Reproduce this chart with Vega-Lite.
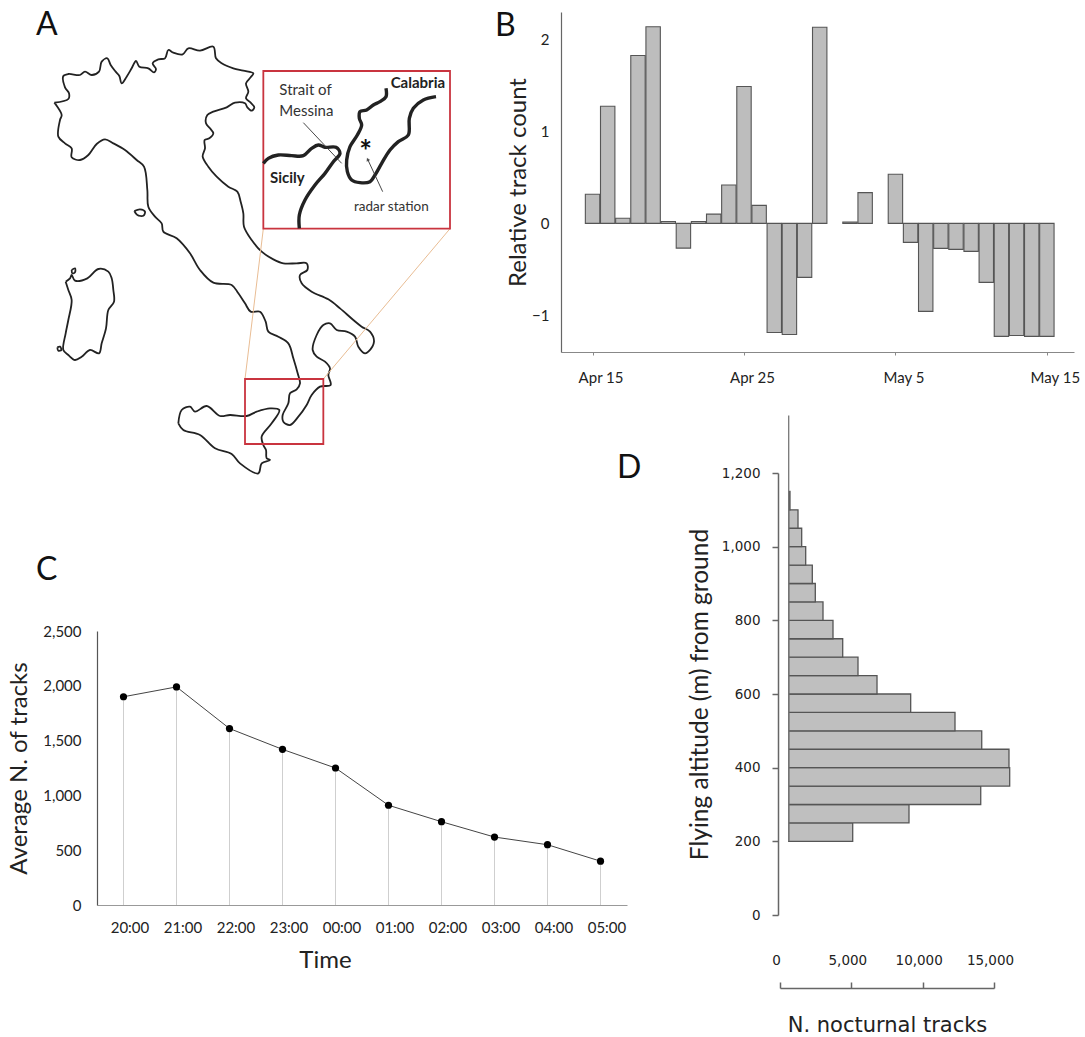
{"$schema":"https://vega.github.io/schema/vega-lite/v6.json","background":"white","padding":{"left":7,"top":9,"right":0,"bottom":0},"bounds":"flush","spacing":464,"config":{"view":{"stroke":null},"font":"Lato","axis":{"grid":false,"labelFlush":false,"labelFont":"Lato","titleFont":"Lato","titleFontWeight":"normal","labelColor":"#222","titleColor":"#222"},"title":{"font":"Lato","fontSize":32,"fontWeight":"normal","anchor":"start","frame":"group","offset":0,"baseline":"alphabetic","color":"#111"}},
"datasets":{
"coast":[
{"p":"main","x":163,"y":308},{"p":"main","x":205,"y":297},{"p":"main","x":207,"y":280},{"p":"main","x":195,"y":262},{"p":"main","x":190,"y":228},{"p":"main","x":205,"y":222},{"p":"main","x":240,"y":225},{"p":"main","x":255,"y":215},{"p":"main","x":275,"y":225},{"p":"main","x":297,"y":215},{"p":"main","x":305,"y":185},{"p":"main","x":322,"y":175},{"p":"main","x":332,"y":195},{"p":"main","x":347,"y":215},{"p":"main","x":358,"y":228},{"p":"main","x":365,"y":250},{"p":"main","x":380,"y":230},{"p":"main","x":395,"y":205},{"p":"main","x":408,"y":183},{"p":"main","x":418,"y":200},{"p":"main","x":445,"y":205},{"p":"main","x":462,"y":217},{"p":"main","x":468,"y":207},{"p":"main","x":458,"y":190},{"p":"main","x":475,"y":178},{"p":"main","x":495,"y":175},{"p":"main","x":505,"y":150},{"p":"main","x":520,"y":158},{"p":"main","x":548,"y":163},{"p":"main","x":565,"y":145},{"p":"main","x":600,"y":152},{"p":"main","x":640,"y":140},{"p":"main","x":648,"y":175},{"p":"main","x":665,"y":190},{"p":"main","x":700,"y":205},{"p":"main","x":730,"y":212},{"p":"main","x":760,"y":220},{"p":"main","x":752,"y":232},{"p":"main","x":738,"y":250},{"p":"main","x":745,"y":275},{"p":"main","x":738,"y":295},{"p":"main","x":752,"y":308},{"p":"main","x":763,"y":322},{"p":"main","x":755,"y":332},{"p":"main","x":742,"y":322},{"p":"main","x":735,"y":310},{"p":"main","x":705,"y":308},{"p":"main","x":680,"y":322},{"p":"main","x":640,"y":335},{"p":"main","x":622,"y":345},{"p":"main","x":618,"y":370},{"p":"main","x":630,"y":385},{"p":"main","x":640,"y":400},{"p":"main","x":628,"y":415},{"p":"main","x":614,"y":420},{"p":"main","x":615,"y":445},{"p":"main","x":608,"y":470},{"p":"main","x":625,"y":500},{"p":"main","x":650,"y":530},{"p":"main","x":685,"y":560},{"p":"main","x":712,"y":575},{"p":"main","x":722,"y":605},{"p":"main","x":730,"y":640},{"p":"main","x":732,"y":680},{"p":"main","x":755,"y":720},{"p":"main","x":785,"y":755},{"p":"main","x":820,"y":778},{"p":"main","x":850,"y":790},{"p":"main","x":890,"y":790},{"p":"main","x":920,"y":790},{"p":"main","x":922,"y":810},{"p":"main","x":900,"y":825},{"p":"main","x":905,"y":850},{"p":"main","x":935,"y":875},{"p":"main","x":985,"y":898},{"p":"main","x":1020,"y":925},{"p":"main","x":1060,"y":960},{"p":"main","x":1085,"y":980},{"p":"main","x":1110,"y":995},{"p":"main","x":1122,"y":1025},{"p":"main","x":1105,"y":1055},{"p":"main","x":1095,"y":1060},{"p":"main","x":1075,"y":1040},{"p":"main","x":1065,"y":1010},{"p":"main","x":1040,"y":995},{"p":"main","x":1010,"y":990},{"p":"main","x":990,"y":970},{"p":"main","x":970,"y":975},{"p":"main","x":950,"y":1005},{"p":"main","x":938,"y":1050},{"p":"main","x":950,"y":1070},{"p":"main","x":975,"y":1085},{"p":"main","x":990,"y":1105},{"p":"main","x":985,"y":1125},{"p":"main","x":992,"y":1155},{"p":"main","x":960,"y":1160},{"p":"main","x":935,"y":1185},{"p":"main","x":920,"y":1215},{"p":"main","x":895,"y":1250},{"p":"main","x":870,"y":1275},{"p":"main","x":850,"y":1265},{"p":"main","x":848,"y":1245},{"p":"main","x":865,"y":1210},{"p":"main","x":870,"y":1180},{"p":"main","x":890,"y":1168},{"p":"main","x":900,"y":1150},{"p":"main","x":893,"y":1120},{"p":"main","x":880,"y":1075},{"p":"main","x":865,"y":1030},{"p":"main","x":835,"y":1010},{"p":"main","x":805,"y":995},{"p":"main","x":797,"y":965},{"p":"main","x":780,"y":935},{"p":"main","x":752,"y":935},{"p":"main","x":735,"y":910},{"p":"main","x":715,"y":880},{"p":"main","x":695,"y":855},{"p":"main","x":640,"y":848},{"p":"main","x":600,"y":810},{"p":"main","x":570,"y":760},{"p":"main","x":530,"y":715},{"p":"main","x":490,"y":695},{"p":"main","x":485,"y":670},{"p":"main","x":465,"y":650},{"p":"main","x":445,"y":620},{"p":"main","x":442,"y":570},{"p":"main","x":432,"y":500},{"p":"main","x":410,"y":480},{"p":"main","x":375,"y":450},{"p":"main","x":340,"y":430},{"p":"main","x":315,"y":418},{"p":"main","x":290,"y":432},{"p":"main","x":265,"y":465},{"p":"main","x":240,"y":480},{"p":"main","x":215,"y":472},{"p":"main","x":215,"y":445},{"p":"main","x":195,"y":430},{"p":"main","x":175,"y":410},{"p":"main","x":180,"y":360},{"p":"main","x":185,"y":345},{"p":"main","x":163,"y":308},
{"p":"sicily","x":535,"y":1270},{"p":"sicily","x":545,"y":1230},{"p":"sicily","x":570,"y":1220},{"p":"sicily","x":585,"y":1235},{"p":"sicily","x":620,"y":1218},{"p":"sicily","x":660,"y":1248},{"p":"sicily","x":690,"y":1245},{"p":"sicily","x":740,"y":1248},{"p":"sicily","x":770,"y":1235},{"p":"sicily","x":810,"y":1225},{"p":"sicily","x":838,"y":1230},{"p":"sicily","x":815,"y":1270},{"p":"sicily","x":785,"y":1310},{"p":"sicily","x":790,"y":1335},{"p":"sicily","x":798,"y":1350},{"p":"sicily","x":800,"y":1375},{"p":"sicily","x":810,"y":1380},{"p":"sicily","x":785,"y":1390},{"p":"sicily","x":775,"y":1420},{"p":"sicily","x":720,"y":1390},{"p":"sicily","x":695,"y":1362},{"p":"sicily","x":645,"y":1345},{"p":"sicily","x":600,"y":1305},{"p":"sicily","x":550,"y":1290},{"p":"sicily","x":535,"y":1270},
{"p":"sardinia","x":197,"y":845},{"p":"sardinia","x":210,"y":835},{"p":"sardinia","x":215,"y":825},{"p":"sardinia","x":225,"y":842},{"p":"sardinia","x":262,"y":835},{"p":"sardinia","x":295,"y":807},{"p":"sardinia","x":325,"y":815},{"p":"sardinia","x":335,"y":835},{"p":"sardinia","x":340,"y":870},{"p":"sardinia","x":342,"y":905},{"p":"sardinia","x":325,"y":930},{"p":"sardinia","x":318,"y":985},{"p":"sardinia","x":305,"y":1030},{"p":"sardinia","x":297,"y":1060},{"p":"sardinia","x":270,"y":1050},{"p":"sardinia","x":245,"y":1070},{"p":"sardinia","x":225,"y":1080},{"p":"sardinia","x":205,"y":1065},{"p":"sardinia","x":190,"y":1050},{"p":"sardinia","x":197,"y":1000},{"p":"sardinia","x":205,"y":960},{"p":"sardinia","x":215,"y":900},{"p":"sardinia","x":205,"y":870},{"p":"sardinia","x":197,"y":845},
{"p":"elba","x":403,"y":633},{"p":"elba","x":420,"y":628},{"p":"elba","x":435,"y":635},{"p":"elba","x":430,"y":647},{"p":"elba","x":412,"y":645},{"p":"elba","x":403,"y":633},
{"p":"isle1","x":172,"y":1042},{"p":"isle1","x":180,"y":1040},{"p":"isle1","x":184,"y":1050},{"p":"isle1","x":175,"y":1052},{"p":"isle1","x":172,"y":1042},
{"p":"isle2","x":215,"y":810},{"p":"isle2","x":225,"y":805},{"p":"isle2","x":225,"y":817},{"p":"isle2","x":217,"y":820},{"p":"isle2","x":215,"y":810}],
"inset":[
{"p":"sicily","x":790,"y":490},{"p":"sicily","x":805,"y":475},{"p":"sicily","x":835,"y":465},{"p":"sicily","x":875,"y":467},{"p":"sicily","x":910,"y":467},{"p":"sicily","x":935,"y":445},{"p":"sicily","x":955,"y":435},{"p":"sicily","x":975,"y":442},{"p":"sicily","x":1008,"y":442},{"p":"sicily","x":1020,"y":460},{"p":"sicily","x":1000,"y":485},{"p":"sicily","x":975,"y":520},{"p":"sicily","x":945,"y":555},{"p":"sicily","x":915,"y":600},{"p":"sicily","x":898,"y":645},{"p":"sicily","x":898,"y":685},
{"p":"calabria","x":1158,"y":265},{"p":"calabria","x":1158,"y":290},{"p":"calabria","x":1140,"y":305},{"p":"calabria","x":1120,"y":315},{"p":"calabria","x":1100,"y":330},{"p":"calabria","x":1080,"y":335},{"p":"calabria","x":1078,"y":355},{"p":"calabria","x":1085,"y":375},{"p":"calabria","x":1072,"y":405},{"p":"calabria","x":1050,"y":440},{"p":"calabria","x":1040,"y":480},{"p":"calabria","x":1042,"y":515},{"p":"calabria","x":1055,"y":540},{"p":"calabria","x":1080,"y":548},{"p":"calabria","x":1110,"y":545},{"p":"calabria","x":1125,"y":525},{"p":"calabria","x":1145,"y":490},{"p":"calabria","x":1170,"y":450},{"p":"calabria","x":1195,"y":425},{"p":"calabria","x":1225,"y":405},{"p":"calabria","x":1228,"y":355},{"p":"calabria","x":1240,"y":325},{"p":"calabria","x":1270,"y":300},{"p":"calabria","x":1308,"y":290}],
"leaders":[{"p":"strait","x":910,"y":368},{"p":"strait","x":1025,"y":490},{"p":"radar","x":1148,"y":575},{"p":"radar","x":1103,"y":478}],
"links":[{"p":"left","x":790,"y":686},{"p":"left","x":735,"y":1137},{"p":"right","x":1350,"y":686},{"p":"right","x":970,"y":1137}],
"boxes":[{"x":790,"x2":1350,"y":213,"y2":686},{"x":735,"x2":970,"y":1137,"y2":1332}]
},
"hconcat":[
{"vconcat":[
{"title":{"text":"A","dx":-61,"dy":34},"width":383,"height":468,
"encoding":{"x":{"field":"x","type":"quantitative","axis":null,"scale":{"domain":[291,1440],"nice":false,"zero":false}},"y":{"field":"y","type":"quantitative","axis":null,"scale":{"domain":[1440,36],"nice":false,"zero":false}}},
"layer":[
{"data":{"name":"coast"},"mark":{"type":"line","stroke":"#222","strokeWidth":1.8,"interpolate":"catmull-rom"},"encoding":{"detail":{"field":"p"},"order":{"value":null}}},
{"data":{"name":"links"},"mark":{"type":"line","stroke":"#e9bd94","strokeWidth":1},"encoding":{"detail":{"field":"p"},"order":{"value":null}}},
{"data":{"name":"boxes"},"mark":{"type":"rect","fill":"transparent","stroke":"#c9343f","strokeWidth":1.8},"encoding":{"x2":{"field":"x2"},"y2":{"field":"y2"}}},
{"data":{"name":"inset"},"mark":{"type":"line","stroke":"#222","strokeWidth":3.4,"interpolate":"catmull-rom"},"encoding":{"detail":{"field":"p"},"order":{"value":null}}},
{"data":{"name":"leaders"},"mark":{"type":"line","stroke":"#333","strokeWidth":0.9},"encoding":{"detail":{"field":"p"},"order":{"value":null}}},
{"data":{"values":[{"x":1103,"y":478}]},"mark":{"type":"point","shape":"triangle-up","filled":true,"color":"#222","size":16,"angle":-25}},
{"data":{"values":[{"x":1097,"y":460,"t":"*"}]},"mark":{"type":"text","fontSize":30,"fontWeight":"bold","font":"Lato","color":"#111","baseline":"middle"},"encoding":{"text":{"field":"t"}}},
{"data":{"values":[{"x":838,"y":270,"t":"Strait of"},{"x":838,"y":333,"t":"Messina"}]},"mark":{"type":"text","fontSize":15,"font":"Lato","align":"left","baseline":"middle","color":"#333"},"encoding":{"text":{"field":"t"}}},
{"data":{"values":[{"x":1172,"y":248,"t":"Calabria"},{"x":810,"y":533,"t":"Sicily"}]},"mark":{"type":"text","fontSize":15,"fontWeight":"bold","font":"Lato","align":"left","baseline":"middle","color":"#222"},"encoding":{"text":{"field":"t"}}},
{"data":{"values":[{"x":1062,"y":620,"t":"radar station"}]},"mark":{"type":"text","fontSize":13.5,"font":"Lato","align":"left","baseline":"middle","color":"#333"},"encoding":{"text":{"field":"t"}}}
]},
{"title":{"text":"C","dx":-61,"dy":-33},"width":530,"height":274,
"data":{"values":[{"time":"20:00","tracks":1900},{"time":"21:00","tracks":1990},{"time":"22:00","tracks":1610},{"time":"23:00","tracks":1420},{"time":"00:00","tracks":1250},{"time":"01:00","tracks":910},{"time":"02:00","tracks":760},{"time":"03:00","tracks":620},{"time":"04:00","tracks":550},{"time":"05:00","tracks":400}]},
"encoding":{"x":{"field":"time","type":"ordinal","sort":null,"scale":{"type":"point","padding":0.5},"axis":{"title":"Time","titleFontSize":24,"labelFontSize":15,"labelAngle":0,"ticks":false,"labelPadding":15,"labelOffset":6,"domainColor":"#999","domainWidth":1.2,"titleX":228,"titleY":55,"titleBaseline":"middle"}},"y":{"field":"tracks","type":"quantitative","scale":{"domain":[0,2500],"nice":false},"axis":{"title":"Average N. of tracks","titleFontSize":24,"labelFontSize":15,"ticks":false,"values":[0,500,1000,1500,2000,2500],"format":",.0f","labelPadding":16,"domainColor":"#555","domainWidth":1.2,"titlePadding":11}}},
"layer":[
{"mark":{"type":"rule","stroke":"#cfcfcf","strokeWidth":1},"encoding":{"y2":{"datum":0}}},
{"mark":{"type":"line","stroke":"#444","strokeWidth":1}},
{"mark":{"type":"circle","color":"#000","size":52,"opacity":1}}
]}
],"spacing":151,"bounds":"flush"},
{"vconcat":[
{"title":{"text":"B","dx":-66,"dy":35},"width":513,"height":340,
"data":{"values":[{"day":"2015-04-15","v":0.316},{"day":"2015-04-16","v":1.274},{"day":"2015-04-17","v":0.055},{"day":"2015-04-18","v":1.826},{"day":"2015-04-19","v":2.14},{"day":"2015-04-20","v":0.02},{"day":"2015-04-21","v":-0.27},{"day":"2015-04-22","v":0.02},{"day":"2015-04-23","v":0.1},{"day":"2015-04-24","v":0.417},{"day":"2015-04-25","v":1.49},{"day":"2015-04-26","v":0.196},{"day":"2015-04-27","v":-1.187},{"day":"2015-04-28","v":-1.21},{"day":"2015-04-29","v":-0.588},{"day":"2015-04-30","v":2.134},{"day":"2015-05-02","v":0.015},{"day":"2015-05-03","v":0.334},{"day":"2015-05-05","v":0.534},{"day":"2015-05-06","v":-0.207},{"day":"2015-05-07","v":-0.958},{"day":"2015-05-08","v":-0.272},{"day":"2015-05-09","v":-0.283},{"day":"2015-05-10","v":-0.305},{"day":"2015-05-11","v":-0.642},{"day":"2015-05-12","v":-1.23},{"day":"2015-05-13","v":-1.22},{"day":"2015-05-14","v":-1.23},{"day":"2015-05-15","v":-1.23}]},
"mark":{"type":"bar","width":14.4,"fill":"#bdbdbd","stroke":"#555","strokeWidth":1.1},
"encoding":{"x":{"field":"day","type":"temporal","scale":{"type":"utc","padding":0,"domain":[{"year":2015,"month":"apr","date":12,"hours":22,"utc":true},{"year":2015,"month":"may","date":16,"hours":19,"utc":true}],"nice":false},"axis":{"title":null,"values":[{"year":2015,"month":"apr","date":15,"utc":true},{"year":2015,"month":"apr","date":25,"utc":true},{"year":2015,"month":"may","date":5,"utc":true},{"year":2015,"month":"may","date":15,"utc":true}],"format":"%b %-d","labelFontSize":15,"labelPadding":15,"labelOffset":8,"tickSize":3,"tickColor":"#888","domainColor":"#888","domainWidth":1.2,"labelFlush":false}},
"y":{"field":"v","type":"quantitative","scale":{"domain":[-1.4,2.3],"nice":false},"axis":{"title":"Relative track count","titleFontSize":24,"labelFontSize":15,"ticks":false,"values":[-1,0,1,2],"labelPadding":12,"domainColor":"#666","domainWidth":1.2,"titlePadding":1}}}},
{"hconcat":[
{"width":219,"height":1,"data":{"values":[]},"mark":"point"},
{"title":{"text":"D","dx":-163,"dy":74},"width":214,"height":442,
"data":{"values":[{"low":200,"high":250,"tracks":5096},{"low":250,"high":300,"tracks":9042},{"low":300,"high":350,"tracks":14070},{"low":350,"high":400,"tracks":16100},{"low":400,"high":450,"tracks":16050},{"low":450,"high":500,"tracks":14140},{"low":500,"high":550,"tracks":12266},{"low":550,"high":600,"tracks":9160},{"low":600,"high":650,"tracks":6800},{"low":650,"high":700,"tracks":5467},{"low":700,"high":750,"tracks":4395},{"low":750,"high":800,"tracks":3715},{"low":800,"high":850,"tracks":3014},{"low":850,"high":900,"tracks":2474},{"low":900,"high":950,"tracks":2264},{"low":950,"high":1000,"tracks":1801},{"low":1000,"high":1050,"tracks":1520},{"low":1050,"high":1100,"tracks":1262},{"low":1100,"high":1150,"tracks":700}]},
"encoding":{"y":{"field":"low","type":"quantitative","scale":{"domain":[0,1200],"nice":false},"axis":{"title":"Flying altitude (m) from ground","titleFontSize":24.5,"labelFont":"DejaVu Sans","labelFontSize":13.5,"values":[0,200,400,600,800,1000,1200],"format":",.0f","offset":2,"tickSize":6,"tickColor":"#666","tickWidth":1.5,"domainColor":"#666","domainWidth":1.5,"labelPadding":12,"titlePadding":9}},
"x":{"field":"tracks","type":"quantitative","scale":{"domain":[0,15000],"nice":false},"axis":{"title":"N. nocturnal tracks","titleFont":"DejaVu Sans","titleFontSize":21,"labelFont":"DejaVu Sans","labelFontSize":13.5,"values":[0,5000,10000,15000],"format":",.0f","offset":73,"tickSize":-6,"tickColor":"#666","tickWidth":1.5,"domainColor":"#666","domainWidth":1.5,"labelPadding":-29,"labelOffset":-4,"titlePadding":26}}},
"layer":[
{"mark":{"type":"rect","fill":"#bfbfbf","stroke":"#555","strokeWidth":1.3},"encoding":{"x2":{"datum":610},"y2":{"field":"high"}}},
{"data":{"values":[{"a":200,"b":1356,"t":610}]},"mark":{"type":"rule","stroke":"#777","strokeWidth":1.3},"encoding":{"x":{"field":"t","type":"quantitative"},"y":{"field":"a","type":"quantitative"},"y2":{"field":"b"}}}
]}
],"spacing":0,"bounds":"flush"}
],"spacing":121,"bounds":"flush"}
]}
